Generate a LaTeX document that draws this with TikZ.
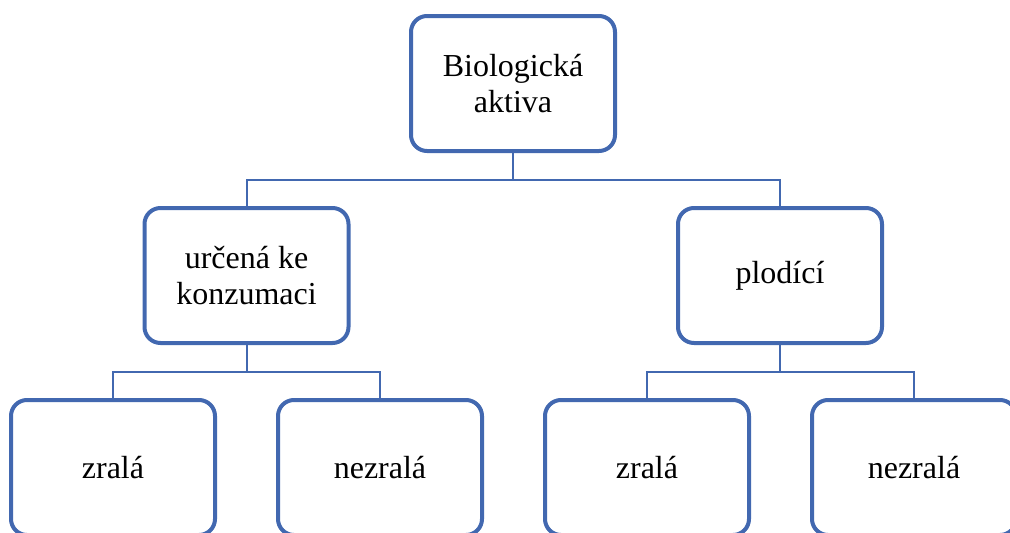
\documentclass[tikz,border=0pt]{standalone}
\usepackage{fontspec}
\setmainfont{Liberation Serif}
\usetikzlibrary{positioning}
\definecolor{boxblue}{RGB}{66,104,176}
\tikzset{
  aktivum/.style={draw=boxblue, line width=4pt, rounded corners=16pt,
    minimum width=204pt, minimum height=135pt, align=center,
    font=\fontsize{32}{36}\selectfont, inner sep=0pt},
  link/.style={draw=boxblue, line width=2pt}
}
\begin{document}
\begin{tikzpicture}[x=1pt,y=-1pt]
\useasboundingbox (0,0) rectangle (1010,533);
\clip (0,0) rectangle (1010,533);
% top level
\node[aktivum] (bio) at (513,83.5) {Biologická\\aktiva};
% second level
\node[aktivum] (kon) at (246.5,275.5) {určená ke\\konzumaci};
\node[aktivum] (plo) at (780,275.5) {plodící};
% third level
\node[aktivum] (kzr) at (113,467.5) {zralá};
\node[aktivum] (knz) at (380,467.5) {nezralá};
\node[aktivum] (pzr) at (647,467.5) {zralá};
\node[aktivum] (pnz) at (914,467.5) {nezralá};
% connectors
\draw[link] (bio.south) -- ++(0,27) -| (kon.north);
\draw[link] (bio.south) -- ++(0,27) -| (plo.north);
\draw[link] (kon.south) -- ++(0,27) -| (kzr.north);
\draw[link] (kon.south) -- ++(0,27) -| (knz.north);
\draw[link] (plo.south) -- ++(0,27) -| (pzr.north);
\draw[link] (plo.south) -- ++(0,27) -| (pnz.north);
\end{tikzpicture}
\end{document}
